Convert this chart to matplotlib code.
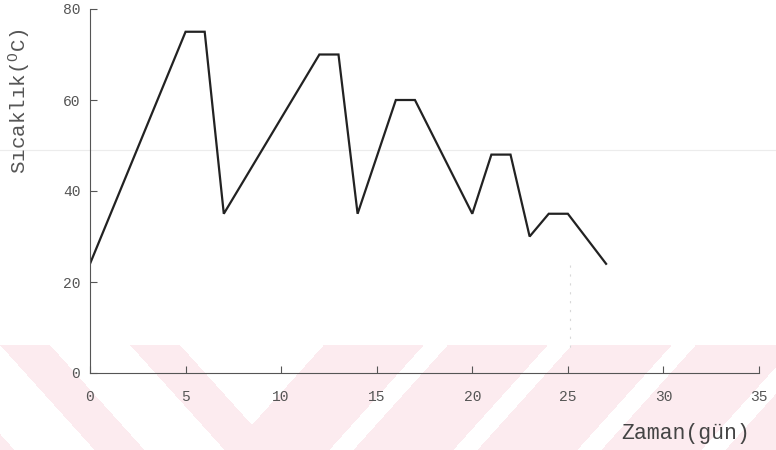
import numpy as np
import matplotlib
matplotlib.use("Agg")
import matplotlib.pyplot as plt

# Composting run: pile temperature over time
days = [0, 5, 6, 7, 12, 13, 14, 16, 17, 20, 21, 22, 23, 24, 25, 27]
temps = [24, 75, 75, 35, 70, 70, 35, 60, 60, 35, 48, 48, 30, 35, 35, 24]

x_ticks = [0, 5, 10, 15, 20, 25, 30, 35]
y_ticks = [0, 20, 40, 60, 80]
y_tick_labels = ["0", "20", "40", "60", "80"]

W, H = 776, 450
fig = plt.figure(figsize=(W / 100, H / 100), dpi=100)

# Background layer: pale chevron stripes along the bottom edge
bg = fig.add_axes([0, 0, 1, 1], zorder=0)
yy, xx = np.mgrid[0:H, 0:W].astype(float)
t = np.clip(yy - 345, 0, None)
xs_left = xx - 0.9 * t
xs_right = xx + 0.9 * t
left_pink = (xs_left < 180) & (np.mod(xs_left, 130) < 50)
right_pink = (xs_right >= 313) & (np.mod(xs_right - 423, 124) >= 24)
pink = (yy >= 345) & (left_pink | right_pink)
img = np.ones((H, W, 3))
img[pink] = np.array([252, 235, 239]) / 255.0
bg.imshow(img, extent=(0, W, H, 0), interpolation="bilinear", aspect="auto")
bg.plot([0, W], [150, 150], color="#ececec", lw=0.8)
bg.plot([570, 570], [265, 350], color="#d8d8d8", lw=0.8, ls=(0, (2, 6)))
bg.set_xlim(0, W)
bg.set_ylim(H, 0)
bg.axis("off")

ax = fig.add_axes([90 / W, 1 - 373 / H, (759 - 90) / W, (373 - 9) / H], zorder=1)
ax.patch.set_alpha(0)

ax.plot(days, temps, color="#222222", lw=1.6, solid_joinstyle="miter")

ax.set_xlim(0, 35)
ax.set_ylim(0, 80)
for side in ("top", "right"):
    ax.spines[side].set_visible(False)
for side in ("left", "bottom"):
    ax.spines[side].set_color("#555555")
    ax.spines[side].set_linewidth(0.8)

mono = "Liberation Mono"
ax.set_xticks(x_ticks)
ax.set_xticklabels([str(v) for v in x_ticks], family=mono, fontsize=10.5, color="#555555")
ax.set_yticks(y_ticks)
ax.set_yticklabels(y_tick_labels, family=mono, fontsize=10.5, color="#555555")
ax.tick_params(axis="x", direction="in", length=5, width=0.8, color="#555555", pad=12)
ax.tick_params(axis="y", direction="in", length=5, width=0.8, color="#555555", pad=7)

fig.text(686 / W, 1 - 433 / H, "Zaman(gün)", family=mono, fontsize=15.5,
         color="#444444", ha="center", va="center")
fig.text(20 / W, 1 - 101 / H, "S\u0131cakl\u0131k($\\mathregular{^{O}}$C)", family=mono,
         fontsize=15, color="#555555", rotation=90, ha="center", va="center")

fig.savefig("out.png", dpi=100)
